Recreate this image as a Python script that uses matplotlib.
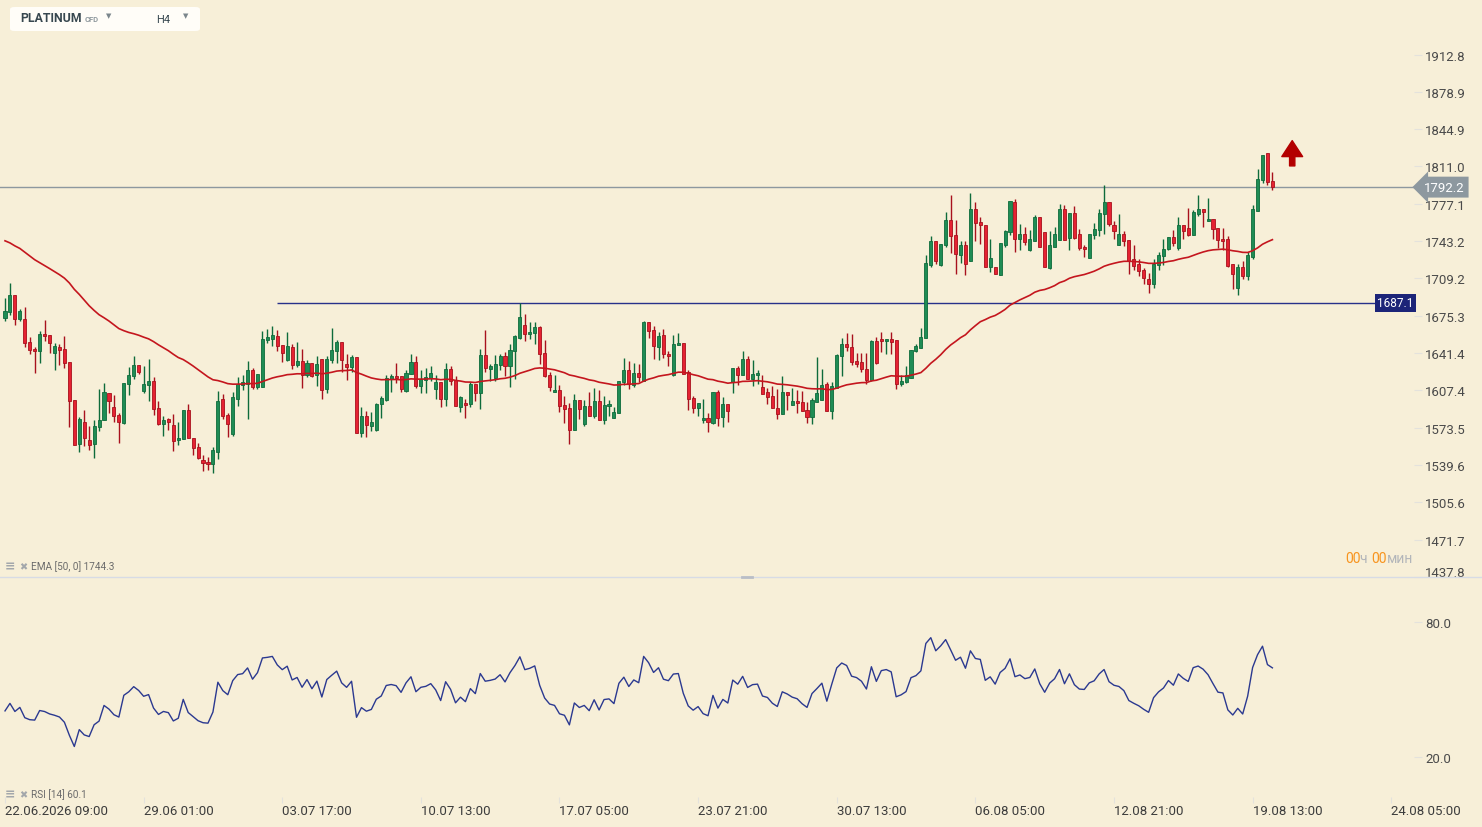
import numpy as np
import matplotlib
matplotlib.use('Agg')
import matplotlib.pyplot as plt
from matplotlib.patches import FancyBboxPatch
from matplotlib.lines import Line2D
from matplotlib.transforms import ScaledTranslation

plt.rcParams['font.family'] = ['Roboto', 'DejaVu Sans']

# PLATINUM CFD, H4 candles
opens = [1673.2, 1678.7, 1694.4, 1672.0, 1672.6, 1651.4, 1645.3, 1642.9, 1659.0, 1658.0,
         1641.1, 1646.8, 1645.3, 1633.2, 1598.6, 1558.2, 1578.6, 1562.2, 1558.2, 1573.7,
         1580.1, 1605.0, 1592.5, 1584.6, 1578.0, 1612.9, 1620.1, 1630.7, 1606.5, 1611.9,
         1616.2, 1591.3, 1576.5, 1581.6, 1576.2, 1561.9, 1563.1, 1589.5, 1564.0, 1556.1,
         1544.3, 1542.5, 1540.1, 1551.3, 1599.8, 1585.3, 1567.4, 1599.5, 1611.9, 1613.5,
         1626.2, 1610.1, 1610.4, 1652.9, 1654.4, 1656.8, 1648.9, 1635.0, 1646.8, 1630.1,
         1634.1, 1621.0, 1632.6, 1621.0, 1635.9, 1608.3, 1635.0, 1643.2, 1651.4, 1631.4,
         1628.3, 1637.7, 1568.3, 1584.3, 1574.6, 1571.0, 1594.7, 1598.9, 1618.0, 1620.4,
         1620.4, 1606.5, 1622.3, 1633.5, 1611.3, 1616.5, 1618.6, 1608.3, 1615.0, 1599.5,
         1626.8, 1617.1, 1592.2, 1595.9, 1594.7, 1613.2, 1605.0, 1639.5, 1627.1, 1618.3,
         1630.7, 1638.6, 1629.5, 1643.2, 1655.3, 1666.8, 1658.3, 1659.6, 1665.3, 1641.4,
         1621.6, 1605.9, 1607.7, 1594.4, 1591.6, 1571.3, 1598.6, 1576.5, 1593.1, 1583.7,
         1597.7, 1580.1, 1593.1, 1582.2, 1586.8, 1614.7, 1626.2, 1612.6, 1623.2, 1615.9,
         1669.9, 1662.6, 1646.5, 1657.7, 1640.8, 1621.6, 1648.3, 1650.8, 1624.4, 1600.7,
         1591.0, 1580.1, 1582.2, 1578.0, 1606.2, 1582.8, 1595.0, 1614.7, 1628.0, 1621.0,
         1636.2, 1617.4, 1621.0, 1610.4, 1605.9, 1602.5, 1591.6, 1585.6, 1605.9, 1593.7,
         1598.0, 1596.8, 1589.8, 1582.8, 1596.5, 1598.3, 1613.2, 1588.3, 1609.8, 1638.3,
         1649.6, 1646.8, 1634.4, 1632.9, 1626.8, 1616.5, 1652.3, 1654.1, 1652.0, 1654.1,
         1653.2, 1612.9, 1615.0, 1618.6, 1642.9, 1645.9, 1655.0, 1721.7, 1743.3, 1721.7,
         1739.3, 1762.4, 1748.4, 1730.5, 1739.9, 1725.1, 1772.4, 1760.9, 1757.8, 1719.6,
         1719.6, 1712.3, 1739.6, 1751.2, 1778.8, 1745.1, 1749.7, 1734.8, 1743.6, 1765.1,
         1751.2, 1718.7, 1738.1, 1743.9, 1772.4, 1746.3, 1769.1, 1749.7, 1738.1, 1727.8,
         1748.4, 1753.0, 1767.5, 1779.1, 1758.1, 1739.3, 1749.7, 1744.5, 1727.2, 1722.7,
         1717.2, 1709.0, 1703.9, 1721.1, 1729.6, 1735.7, 1747.2, 1737.2, 1758.1, 1755.1,
         1748.7, 1768.2, 1772.7, 1761.2, 1763.3, 1755.4, 1745.4, 1745.4, 1722.1, 1700.5,
         1719.6, 1711.4, 1728.4, 1770.3, 1798.5, 1823.4, 1798.2]
highs = [1691.4, 1705.4, 1694.4, 1681.7, 1683.5, 1655.9, 1646.5, 1661.1, 1671.7, 1658.0,
         1650.8, 1649.6, 1656.8, 1633.2, 1598.6, 1582.8, 1589.5, 1575.2, 1580.1, 1608.9,
         1614.4, 1605.0, 1603.5, 1587.1, 1614.4, 1628.9, 1638.6, 1630.7, 1629.2, 1636.2,
         1619.2, 1598.0, 1584.3, 1582.5, 1585.8, 1578.9, 1589.5, 1595.3, 1564.0, 1559.8,
         1548.3, 1546.7, 1555.5, 1607.1, 1604.1, 1587.1, 1605.9, 1619.5, 1621.6, 1634.4,
         1628.0, 1622.3, 1661.7, 1663.5, 1666.2, 1662.3, 1648.9, 1660.8, 1649.6, 1651.7,
         1645.3, 1635.3, 1632.6, 1638.9, 1635.9, 1638.9, 1664.1, 1653.5, 1651.4, 1640.8,
         1639.8, 1637.7, 1592.5, 1588.3, 1588.0, 1595.9, 1602.5, 1621.6, 1622.6, 1632.6,
         1620.4, 1626.2, 1640.8, 1638.9, 1626.2, 1628.0, 1629.5, 1621.6, 1615.0, 1632.6,
         1629.5, 1620.4, 1602.5, 1599.8, 1615.0, 1613.2, 1645.3, 1662.6, 1631.7, 1639.8,
         1640.8, 1642.3, 1649.9, 1658.0, 1687.2, 1677.1, 1669.3, 1669.3, 1666.2, 1653.5,
         1624.1, 1621.6, 1612.6, 1602.5, 1595.9, 1604.4, 1598.6, 1598.9, 1606.2, 1609.8,
         1608.0, 1602.2, 1598.3, 1591.9, 1615.9, 1636.8, 1634.4, 1632.3, 1631.7, 1670.8,
         1669.9, 1666.2, 1660.2, 1663.5, 1642.9, 1658.0, 1659.9, 1650.8, 1626.2, 1602.5,
         1595.9, 1599.8, 1587.1, 1605.9, 1608.0, 1601.0, 1595.0, 1628.0, 1629.2, 1642.9,
         1638.9, 1634.7, 1625.6, 1621.6, 1609.8, 1611.3, 1608.9, 1620.4, 1605.9, 1609.8,
         1607.7, 1607.1, 1596.5, 1600.4, 1638.0, 1627.1, 1615.0, 1615.0, 1640.8, 1655.0,
         1659.9, 1658.9, 1641.4, 1641.4, 1641.4, 1653.2, 1656.2, 1660.5, 1654.1, 1660.5,
         1653.2, 1621.7, 1629.5, 1644.1, 1649.3, 1664.4, 1730.8, 1747.8, 1743.3, 1740.6,
         1770.0, 1785.4, 1762.7, 1743.3, 1743.3, 1787.3, 1778.8, 1765.1, 1757.8, 1745.1,
         1719.6, 1741.5, 1753.6, 1779.7, 1781.8, 1758.8, 1756.0, 1753.0, 1766.6, 1765.1,
         1751.2, 1752.1, 1755.7, 1777.3, 1775.7, 1769.1, 1775.4, 1754.5, 1739.3, 1749.7,
         1759.4, 1772.7, 1794.5, 1779.1, 1761.8, 1768.2, 1752.7, 1744.5, 1739.9, 1726.6,
         1718.7, 1713.9, 1726.6, 1733.6, 1745.4, 1747.2, 1753.6, 1765.1, 1758.1, 1773.6,
         1771.8, 1784.8, 1772.7, 1782.7, 1763.3, 1755.4, 1755.1, 1747.5, 1722.1, 1722.7,
         1725.4, 1733.3, 1776.3, 1808.5, 1821.8, 1823.4, 1806.4]
lows = [1670.2, 1675.6, 1666.5, 1670.8, 1646.5, 1640.2, 1622.9, 1632.0, 1652.0, 1641.7,
        1625.6, 1630.1, 1627.7, 1573.7, 1557.3, 1551.0, 1556.7, 1553.4, 1545.5, 1570.1,
        1580.1, 1587.1, 1578.6, 1559.2, 1576.8, 1602.9, 1618.0, 1622.6, 1605.3, 1597.4,
        1584.6, 1575.9, 1565.5, 1571.0, 1551.9, 1557.3, 1562.8, 1563.7, 1548.9, 1545.2,
        1534.0, 1535.2, 1531.9, 1545.2, 1581.6, 1564.6, 1565.8, 1592.8, 1607.4, 1581.6,
        1608.3, 1608.3, 1610.4, 1650.8, 1647.4, 1642.9, 1632.9, 1634.4, 1626.5, 1628.3,
        1609.2, 1619.2, 1619.8, 1611.0, 1599.8, 1604.7, 1632.0, 1632.0, 1624.1, 1616.5,
        1624.1, 1568.3, 1564.6, 1564.6, 1570.1, 1570.1, 1581.9, 1598.0, 1605.6, 1614.4,
        1605.6, 1605.6, 1622.3, 1609.5, 1604.7, 1604.7, 1616.2, 1599.2, 1592.2, 1593.1,
        1612.6, 1593.1, 1587.4, 1581.9, 1592.2, 1597.4, 1590.1, 1624.1, 1615.9, 1615.9,
        1625.6, 1620.1, 1610.1, 1618.0, 1654.1, 1652.0, 1654.4, 1649.9, 1631.7, 1619.2,
        1607.1, 1605.6, 1587.4, 1577.7, 1558.6, 1571.0, 1581.6, 1574.6, 1583.7, 1581.9,
        1580.1, 1576.5, 1584.0, 1581.9, 1586.8, 1612.6, 1608.9, 1610.7, 1615.0, 1615.9,
        1655.0, 1635.6, 1634.7, 1636.8, 1629.2, 1620.1, 1648.3, 1622.3, 1589.2, 1586.5,
        1583.7, 1577.4, 1569.2, 1576.5, 1575.2, 1573.7, 1578.3, 1604.7, 1612.6, 1621.0,
        1617.4, 1611.0, 1612.9, 1603.8, 1594.7, 1591.3, 1581.0, 1585.6, 1589.2, 1593.7,
        1586.8, 1588.3, 1577.7, 1576.5, 1596.5, 1598.3, 1588.3, 1581.6, 1609.8, 1620.1,
        1642.9, 1630.7, 1628.6, 1624.1, 1612.9, 1615.9, 1631.1, 1642.0, 1640.8, 1640.2,
        1608.9, 1611.3, 1613.8, 1618.6, 1642.3, 1645.9, 1655.0, 1719.9, 1722.4, 1720.5,
        1737.8, 1732.4, 1713.0, 1723.6, 1712.0, 1725.1, 1743.6, 1740.6, 1719.3, 1715.4,
        1713.3, 1712.3, 1737.8, 1748.4, 1733.0, 1735.4, 1739.3, 1734.2, 1743.6, 1737.8,
        1719.6, 1718.1, 1737.5, 1743.9, 1743.9, 1735.4, 1745.4, 1734.8, 1729.0, 1727.8,
        1745.4, 1747.5, 1750.0, 1756.6, 1745.1, 1739.3, 1739.0, 1713.6, 1716.6, 1711.4,
        1704.2, 1696.3, 1700.2, 1716.6, 1721.8, 1734.8, 1738.7, 1735.1, 1745.4, 1747.8,
        1748.4, 1765.7, 1755.7, 1761.2, 1745.4, 1736.9, 1735.4, 1719.9, 1699.6, 1693.8,
        1708.4, 1707.5, 1726.9, 1770.3, 1796.1, 1794.0, 1789.4]
closes = [1679.3, 1694.4, 1672.0, 1679.9, 1650.2, 1644.1, 1642.9, 1659.0, 1656.5, 1650.8,
          1647.7, 1643.8, 1632.0, 1597.4, 1557.3, 1581.6, 1563.7, 1557.9, 1575.2, 1580.7,
          1605.9, 1597.4, 1584.0, 1578.3, 1614.4, 1621.0, 1630.7, 1623.8, 1613.2, 1615.9,
          1590.4, 1576.5, 1580.7, 1578.3, 1561.0, 1564.3, 1589.5, 1563.7, 1554.6, 1545.5,
          1541.0, 1540.1, 1553.1, 1598.0, 1583.7, 1576.5, 1601.3, 1613.2, 1615.0, 1626.2,
          1610.1, 1622.3, 1654.4, 1655.9, 1658.0, 1647.4, 1641.4, 1647.7, 1630.1, 1634.1,
          1621.0, 1632.6, 1620.1, 1631.4, 1608.0, 1636.2, 1644.1, 1651.7, 1635.0, 1628.3,
          1638.0, 1568.3, 1584.3, 1575.8, 1578.6, 1595.0, 1600.4, 1618.6, 1620.4, 1618.6,
          1608.3, 1623.2, 1633.5, 1611.0, 1618.0, 1619.5, 1623.5, 1615.0, 1599.5, 1626.8,
          1615.6, 1593.1, 1601.3, 1593.7, 1612.9, 1605.0, 1639.5, 1627.7, 1629.2, 1631.4,
          1638.6, 1629.2, 1644.1, 1656.8, 1674.1, 1658.3, 1660.8, 1665.0, 1640.1, 1620.4,
          1610.1, 1607.7, 1592.8, 1590.1, 1571.3, 1598.6, 1590.4, 1593.1, 1584.0, 1597.7,
          1580.4, 1594.1, 1595.0, 1587.7, 1615.9, 1625.9, 1612.9, 1623.2, 1619.5, 1669.9,
          1661.4, 1647.7, 1657.1, 1640.5, 1638.3, 1649.9, 1650.8, 1622.3, 1599.5, 1591.0,
          1595.9, 1582.5, 1578.3, 1605.9, 1582.2, 1595.3, 1588.6, 1628.0, 1621.0, 1636.2,
          1617.4, 1622.6, 1623.5, 1603.8, 1601.3, 1591.3, 1585.6, 1606.2, 1602.8, 1598.0,
          1595.6, 1588.3, 1582.8, 1598.9, 1605.3, 1612.2, 1588.3, 1611.6, 1639.8, 1649.6,
          1646.5, 1632.9, 1631.1, 1626.5, 1616.5, 1652.3, 1632.0, 1652.0, 1654.1, 1651.1,
          1613.2, 1616.2, 1621.1, 1644.1, 1647.7, 1656.2, 1723.3, 1743.6, 1724.8, 1740.6,
          1762.4, 1747.5, 1731.2, 1739.6, 1722.1, 1772.4, 1759.4, 1757.8, 1719.3, 1727.8,
          1713.3, 1741.5, 1752.4, 1779.7, 1745.1, 1749.7, 1742.4, 1745.1, 1765.4, 1737.8,
          1719.6, 1739.6, 1749.7, 1772.4, 1744.5, 1769.1, 1746.3, 1736.6, 1735.7, 1749.7,
          1754.2, 1769.1, 1779.1, 1758.5, 1752.1, 1750.0, 1743.0, 1725.4, 1720.2, 1715.7,
          1709.3, 1703.9, 1722.7, 1730.8, 1736.3, 1747.2, 1741.2, 1758.1, 1752.7, 1749.0,
          1770.0, 1772.7, 1769.4, 1763.6, 1753.9, 1743.9, 1743.0, 1720.8, 1713.0, 1719.6,
          1711.4, 1730.2, 1772.7, 1800.0, 1821.8, 1797.0, 1792.2]

# one date label every 28 candles
date_labels = ['22.06.2026 09:00', '29.06 01:00', '03.07 17:00', '10.07 13:00', '17.07 05:00',
               '23.07 21:00', '30.07 13:00', '06.08 05:00', '12.08 21:00', '19.08 13:00',
               '24.08 05:00']
date_step = 28

price_ticks = [1912.8, 1878.9, 1844.9, 1811.0, 1777.1, 1743.2, 1709.2, 1675.3, 1641.4,
               1607.4, 1573.5, 1539.6, 1505.6, 1471.7, 1437.8]
rsi_ticks = [80.0, 20.0]

last_price = 1792.2
level_price = 1687.1
level_start = 55          # candle where the drawn level starts
arrow_candle = 260
arrow_from, arrow_to = 1811.5, 1834.5

ema_period = 50
ema_seed = 1746.0         # EMA value carried in from before the first visible candle
ema_shown = 1744.3
rsi_period = 14
rsi_prev_close = 1673.0
rsi_seed_gain, rsi_seed_loss = 8.0, 12.5
rsi_shown = 60.1

# indicators
alpha = 2.0 / (ema_period + 1)
ema = []
e = ema_seed
for c in closes:
    e = e + alpha * (c - e)
    ema.append(e)

rsi = []
g, l, prev = rsi_seed_gain, rsi_seed_loss, rsi_prev_close
for c in closes:
    d = c - prev
    g = (g * (rsi_period - 1) + max(d, 0)) / rsi_period
    l = (l * (rsi_period - 1) + max(-d, 0)) / rsi_period
    rsi.append(100 * g / (g + l))
    prev = c

W, H = 1482, 828
BG = '#f7efd8'
fig = plt.figure(figsize=(W / 100, H / 100), dpi=100, facecolor=BG)
ax = fig.add_axes([0, (H - 578) / H, 1414 / W, 578 / H])
axr = fig.add_axes([0, (H - 798) / H, 1414 / W, 220 / H])
for a in (ax, axr):
    a.set_facecolor('none')
    for s in a.spines.values():
        s.set_visible(False)
    a.set_xlim(-1.01, 284.6)
    a.yaxis.tick_right()
    a.tick_params(axis='y', length=6, color='#e4e2dc', pad=2, labelsize=9.5, labelcolor='#4a4a4a')

ax.set_ylim(1437.6, 1963.3)
axr.set_ylim(2.0, 100.2)

x = np.arange(len(closes))
o = np.array(opens)
c = np.array(closes)
up = c >= o
fill = np.where(up, '#1f8c55', '#e52232')
edge = np.where(up, '#0e6b3b', '#a8111d')
ax.vlines(x, lows, highs, colors=edge, lw=1, zorder=3)
ax.bar(x, np.maximum(np.abs(c - o), 0.8), bottom=np.minimum(o, c), width=0.62,
       color=fill, edgecolor=edge, linewidth=0.6, zorder=4)
ax.plot(x, ema, color='#c4161e', lw=1.2, zorder=5)

# price line and level
ax.axhline(last_price, color='#8d989f', lw=1, zorder=2)
ax.text(1.0 + 10 / 1414, last_price, '%.1f' % last_price, transform=ax.get_yaxis_transform(),
        ha='left', va='center', color='white', fontsize=9.5, zorder=6,
        bbox=dict(boxstyle='larrow,pad=0.3', fc='#8d989f', ec='none'))
level_end = 276.8
ax.hlines(level_price, level_start, level_end, color='#27318a', lw=1, zorder=2)
ax.text(level_end + 0.35, level_price, '%.1f' % level_price, ha='left', va='center',
        color='white', fontsize=8.5, zorder=6,
        bbox=dict(boxstyle='square,pad=0.2', fc='#1c2478', ec='none'))

ax.annotate('', xy=(arrow_candle, arrow_to), xytext=(arrow_candle, arrow_from),
            arrowprops=dict(arrowstyle='simple,head_width=1.5,head_length=1.15,tail_width=0.38',
                            fc='#b30000', ec='#b30000', mutation_scale=10, shrinkA=0, shrinkB=0))

ax.set_xticks([])
ax.set_yticks(price_ticks)
ax.set_yticklabels(['%.1f' % t for t in price_ticks])
lab = ax.get_yticklabels()[-1]
lab.set_transform(lab.get_transform() + ScaledTranslation(0, 4 / 72, fig.dpi_scale_trans))

# RSI panel
axr.plot(x, rsi, color='#2b3990', lw=1)
axr.set_yticks(rsi_ticks)
axr.set_yticklabels(['%.1f' % t for t in rsi_ticks])
axr.set_xticks([k * date_step for k in range(len(date_labels))])
axr.set_xticklabels(date_labels, ha='left')
axr.tick_params(axis='x', length=4, color='#e4e2dc', pad=1, labelsize=9.5, labelcolor='#3c3c3c')

# panel separator
fig.add_artist(Line2D([0, 1], [(H - 578) / H] * 2, transform=fig.transFigure, color='#d7dbe5', lw=1))
fig.add_artist(Line2D([742 / W, 752 / W], [(H - 578) / H] * 2, transform=fig.transFigure,
                      color='#b9bdc6', lw=2))

def fx(px):
    return px / W

def fy(py):
    return 1 - py / H

# instrument box
fig.add_artist(FancyBboxPatch((fx(10), fy(32)), 190 / W, 24 / H, transform=fig.transFigure,
                              boxstyle='round,pad=0,rounding_size=0.003', fc='#fffdf8', ec='none'))
fig.text(fx(20), fy(18.5), 'PLATINUM', fontsize=8.8, fontweight='bold', color='#37474f', va='center')
fig.text(fx(85), fy(19), 'CFD', fontsize=5.5, fontweight='bold', color='#8f999e', va='center')
fig.text(fx(106), fy(16.5), '▼', fontsize=5, color='#7b868c', va='center', family='DejaVu Sans')
fig.text(fx(156), fy(20), 'H4', fontsize=8, color='#37474f', va='center')
fig.text(fx(183), fy(16.5), '▼', fontsize=5, color='#7b868c', va='center', family='DejaVu Sans')

# indicator captions
for yy, cap in [(567, 'EMA [%d, 0] %.1f' % (ema_period, ema_shown)),
                (795, 'RSI [%d] %.1f' % (rsi_period, rsi_shown))]:
    fig.text(fx(5), fy(yy), '≡', fontsize=9, fontweight='bold', color='#a3a7ab', va='center',
             family='DejaVu Sans')
    fig.text(fx(19), fy(yy), '✖', fontsize=7, color='#a3a7ab', va='center', family='DejaVu Sans')
    fig.text(fx(31), fy(yy), cap, fontsize=7.2, color='#6b6b6b', va='center')

# countdown text, coloured piece by piece
fig.canvas.draw()
r = fig.canvas.get_renderer()
xpos = 1345
for s, col in [('00', '#f7941e'), ('ч ', '#b3b6ba'), ('00', '#f7941e'), ('мин', '#b3b6ba')]:
    t = fig.text(fx(xpos), fy(559), s, fontsize=10, color=col, va='center')
    xpos += t.get_window_extent(r).width

fig.savefig('out.png', dpi=100, facecolor=BG)
